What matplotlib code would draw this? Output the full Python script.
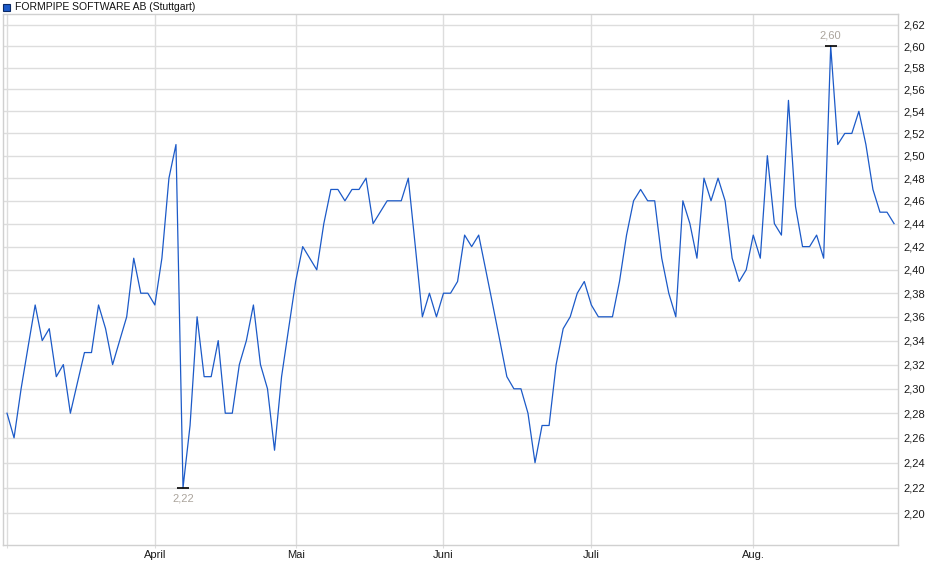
import numpy as np
import pandas as pd
import matplotlib
matplotlib.use("Agg")
import matplotlib.pyplot as plt
from matplotlib.ticker import FixedLocator, FuncFormatter, NullLocator
from matplotlib.patches import Rectangle

plt.rcParams['font.family'] = ['Liberation Sans', 'DejaVu Sans']

title = "FORMPIPE SOFTWARE AB (Stuttgart)"
holidays = ["2025-04-18", "2025-04-21", "2025-05-01"]
dates = pd.bdate_range("2025-03-03", "2025-08-29")
dates = dates[~dates.isin(pd.to_datetime(holidays))]

prices = [
    2.28, 2.26, 2.30, 2.335, 2.37, 2.34, 2.35, 2.31, 2.32, 2.28,
    2.305, 2.33, 2.33, 2.37, 2.35, 2.32, 2.34, 2.36, 2.41, 2.38,
    2.38, 2.37, 2.41, 2.48, 2.51, 2.22, 2.27, 2.36, 2.31, 2.31,
    2.34, 2.28, 2.28, 2.32, 2.34, 2.37, 2.32, 2.30, 2.25, 2.31,
    2.35, 2.39, 2.42, 2.41, 2.40, 2.44, 2.47, 2.47, 2.46, 2.47,
    2.47, 2.48, 2.44, 2.45, 2.46, 2.46, 2.46, 2.48, 2.42, 2.36,
    2.38, 2.36, 2.38, 2.38, 2.39, 2.43, 2.42, 2.43, 2.40, 2.37,
    2.34, 2.31, 2.30, 2.30, 2.28, 2.24, 2.27, 2.27, 2.32, 2.35,
    2.36, 2.38, 2.39, 2.37, 2.36, 2.36, 2.36, 2.39, 2.43, 2.46,
    2.47, 2.46, 2.46, 2.41, 2.38, 2.36, 2.46, 2.44, 2.41, 2.48,
    2.46, 2.48, 2.46, 2.41, 2.39, 2.40, 2.43, 2.41, 2.50, 2.44,
    2.43, 2.55, 2.455, 2.42, 2.42, 2.43, 2.41, 2.60, 2.51, 2.52,
    2.52, 2.54, 2.51, 2.47, 2.45, 2.45, 2.44,
]
month_names = {3: "", 4: "April", 5: "Mai", 6: "Juni", 7: "Juli", 8: "Aug."}
y_ticks = [2.20, 2.22, 2.24, 2.26, 2.28, 2.30, 2.32, 2.34, 2.36, 2.38, 2.40,
           2.42, 2.44, 2.46, 2.48, 2.50, 2.52, 2.54, 2.56, 2.58, 2.60, 2.62]

n = min(len(dates), len(prices))
dates = dates[:n]
prices = np.array(prices[:n])
x = np.arange(n)

months = pd.Series(dates.month)
first_idx = [int(months[months == m].index[0]) for m in months.unique()]
first_lbl = [month_names[m] for m in months.unique()]

fig = plt.figure(figsize=(9.4, 5.79), dpi=100)
W, H = 940, 579
ax = fig.add_axes([3 / W, (H - 545) / H, (898 - 3) / W, (545 - 14) / H])

grid_c = "#dddddd"
ax.plot(x, prices, color="#1c5ac8", lw=0.9, zorder=3)

ax.set_yscale("log")
ax.set_ylim(2.175, 2.630)
ax.set_xlim(-0.57, n - 1 + 0.56)

ax.yaxis.set_major_locator(FixedLocator(y_ticks))
ax.yaxis.set_minor_locator(NullLocator())
ax.yaxis.set_major_formatter(FuncFormatter(lambda v, p: f"{v:.2f}".replace(".", ",")))
ax.yaxis.tick_right()
ax.tick_params(axis="y", length=0, pad=4, labelsize=8, colors="#1a1a1a")

ax.xaxis.set_major_locator(FixedLocator(first_idx))
ax.set_xticklabels(first_lbl)
ax.xaxis.set_minor_locator(NullLocator())
ax.tick_params(axis="x", length=2, pad=1.5, labelsize=8, colors="#1a1a1a",
               color=grid_c, direction="out")

ax.grid(True, color=grid_c, lw=1, zorder=0)
for s in ax.spines.values():
    s.set_color("#d0d0d0")
    s.set_linewidth(1)

# min / max markers
imin = int(np.argmin(prices))
imax = int(np.argmax(prices))
for i, off in ((imin, -7.5), (imax, 7.5)):
    v = prices[i]
    ax.plot(i, v, marker="_", ms=9, mew=1.2, color="black", zorder=4)
    ax.annotate(f"{v:.2f}".replace(".", ","), (i, v), xytext=(0, off),
                textcoords="offset points", ha="center", va="center",
                fontsize=8, color="#aba49c", zorder=5)

# title with legend square
fig.patches.append(Rectangle((3 / W, (H - 11) / H), 7 / W, 7 / H,
                             transform=fig.transFigure, facecolor="#1c5ac8",
                             edgecolor="#0b2a66", lw=0.8))
fig.text(15 / W, (H - 7) / H, title, fontsize=7.5, va="center", ha="left",
         color="#111111")

fig.savefig("out.png", dpi=100)
